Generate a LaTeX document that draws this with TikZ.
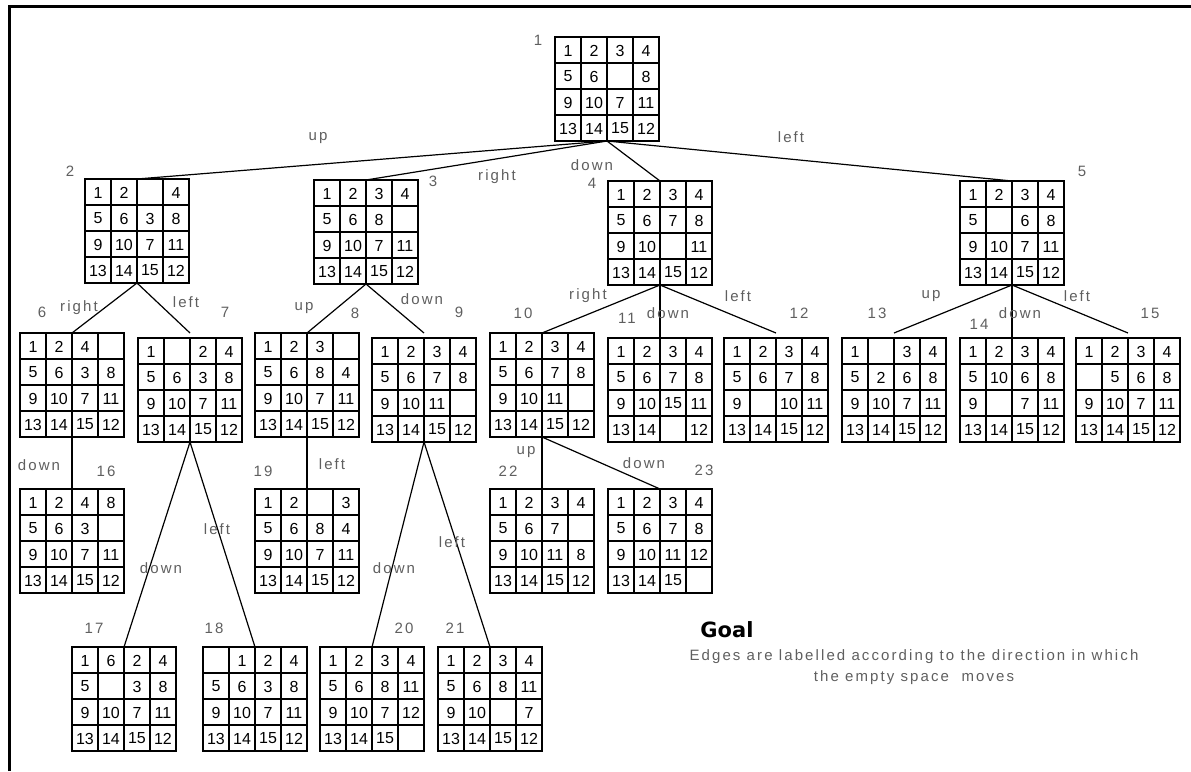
\documentclass[tikz,border=0pt]{standalone}
\usepackage{fontspec}
\setmainfont{Liberation Sans}
\newfontfamily\lblfont[LetterSpace=14]{Liberation Sans}
\newfontfamily\goalfont{DejaVu Sans}
\usetikzlibrary{calc}
\definecolor{labelgray}{RGB}{95,95,95}
\tikzset{
  boardbox/.style={draw, line width=1.8pt, minimum width=104pt, minimum height=104pt, inner sep=0pt, outer sep=0pt},
  gridline/.style={line width=1.8pt},
  tile/.style={inner sep=0pt, font=\fontsize{16}{19}\selectfont},
  edge/.style={line width=1.2pt},
  lbl/.style={inner sep=0pt, text=labelgray, font=\lblfont\fontsize{15}{18}\selectfont},
  goaltext/.style={inner sep=0pt, font=\goalfont\bfseries\fontsize{21}{25}\selectfont},
  captext/.style={inner sep=0pt, text=labelgray, align=center, font=\lblfont\fontsize{15}{20.4}\selectfont}
}
\newcommand\puzzle[4]{%
  \node[boardbox] (#1) at (#2+52,#3+52) {};
  \foreach \k in {1,2,3}{
    \draw[gridline] (#2+26*\k,#3) -- (#2+26*\k,#3+104);
    \draw[gridline] (#2,#3+26*\k) -- (#2+104,#3+26*\k);
  }
  \foreach \v [count=\i from 0] in {#4}{
    \pgfmathtruncatemacro\cc{mod(\i,4)}
    \pgfmathtruncatemacro\rr{div(\i,4)}
    \node[tile] (#1-\i) at (#2+13+26*\cc,#3+13.5+26*\rr) {\v};
  }
}
\begin{document}
\begin{tikzpicture}[x=1pt,y=-1pt]
\useasboundingbox (0,0) rectangle (1191,771);
\draw[line width=3pt] (9,771) -- (9,6.5) -- (1191,6.5);

% boards
\puzzle{b1}{555}{37}{1,2,3,4,5,6,{},8,9,10,7,11,13,14,15,12}
\puzzle{b2}{85}{179}{1,2,{},4,5,6,3,8,9,10,7,11,13,14,15,12}
\puzzle{b3}{314}{180}{1,2,3,4,5,6,8,{},9,10,7,11,13,14,15,12}
\puzzle{b4}{608}{181}{1,2,3,4,5,6,7,8,9,10,{},11,13,14,15,12}
\puzzle{b5}{960}{181}{1,2,3,4,5,{},6,8,9,10,7,11,13,14,15,12}
\puzzle{b6}{20}{333}{1,2,4,{},5,6,3,8,9,10,7,11,13,14,15,12}
\puzzle{b7}{138}{338}{1,{},2,4,5,6,3,8,9,10,7,11,13,14,15,12}
\puzzle{b8}{255}{333}{1,2,3,{},5,6,8,4,9,10,7,11,13,14,15,12}
\puzzle{b9}{372}{338}{1,2,3,4,5,6,7,8,9,10,11,{},13,14,15,12}
\puzzle{b10}{490}{333}{1,2,3,4,5,6,7,8,9,10,11,{},13,14,15,12}
\puzzle{b11}{608}{338}{1,2,3,4,5,6,7,8,9,10,15,11,13,14,{},12}
\puzzle{b12}{724}{338}{1,2,3,4,5,6,7,8,9,{},10,11,13,14,15,12}
\puzzle{b13}{842}{338}{1,{},3,4,5,2,6,8,9,10,7,11,13,14,15,12}
\puzzle{b14}{960}{338}{1,2,3,4,5,10,6,8,9,{},7,11,13,14,15,12}
\puzzle{b15}{1076}{338}{1,2,3,4,{},5,6,8,9,10,7,11,13,14,15,12}
\puzzle{b16}{20}{489}{1,2,4,8,5,6,3,{},9,10,7,11,13,14,15,12}
\puzzle{b19}{255}{489}{1,2,{},3,5,6,8,4,9,10,7,11,13,14,15,12}
\puzzle{b22}{490}{489}{1,2,3,4,5,6,7,{},9,10,11,8,13,14,15,12}
\puzzle{b23}{608}{489}{1,2,3,4,5,6,7,8,9,10,11,12,13,14,15,{}}
\puzzle{b17}{72}{647}{1,6,2,4,5,{},3,8,9,10,7,11,13,14,15,12}
\puzzle{b18}{203}{647}{{},1,2,4,5,6,3,8,9,10,7,11,13,14,15,12}
\puzzle{b20}{320}{647}{1,2,3,4,5,6,8,11,9,10,7,12,13,14,15,{}}
\puzzle{b21}{438}{647}{1,2,3,4,5,6,8,11,9,10,{},7,13,14,15,12}

% free ends just above lowered boards
\coordinate (t7) at ($(b7.north)+(0,-5)$);
\coordinate (t9) at ($(b9.north)+(0,-5)$);
\coordinate (t12) at ($(b12.north)+(0,-5)$);
\coordinate (t13) at ($(b13.north)+(0,-5)$);
\coordinate (t15) at ($(b15.north)+(0,-5)$);

% edges
\draw[edge] (b1.south) -- (b2.north);
\draw[edge] (b1.south) -- (b3.north);
\draw[edge] (b1.south) -- (b4.north);
\draw[edge] (b1.south) -- (b5.north);
\draw[edge] (b2.south) -- (b6.north);
\draw[edge] (b2.south) -- (t7);
\draw[edge] (b3.south) -- (b8.north);
\draw[edge] (b3.south) -- (t9);
\draw[edge] (b4.south) -- (b10.north);
\draw[edge] (b4.south) -- (b11.north);
\draw[edge] (b4.south) -- (t12);
\draw[edge] (b5.south) -- (t13);
\draw[edge] (b5.south) -- (b14.north);
\draw[edge] (b5.south) -- (t15);
\draw[edge] (b6.south) -- (b16.north);
\draw[edge] (b7.south) -- (b17.north);
\draw[edge] (b7.south) -- (b18.north);
\draw[edge] (b8.south) -- (b19.north);
\draw[edge] (b9.south) -- (b20.north);
\draw[edge] (b9.south) -- (b21.north);
\draw[edge] (b10.south) -- (b22.north);
\draw[edge] (b10.south) -- (b23.north);

% state numbers
\node[lbl] (n1) at (538,40) {1};
\node[lbl] (n2) at (70,171) {2};
\node[lbl] (n3) at (433,181) {3};
\node[lbl] (n4) at (592,183) {4};
\node[lbl] (n5) at (1082,171) {5};
\node[lbl] (n6) at (42,312) {6};
\node[lbl] (n7) at (225,312) {7};
\node[lbl] (n8) at (355,313) {8};
\node[lbl] (n9) at (459,312) {9};
\node[lbl] (n10) at (523,313) {10};
\node[lbl] (n11) at (627,318) {11};
\node[lbl] (n12) at (799,313) {12};
\node[lbl] (n13) at (877,313) {13};
\node[lbl] (n14) at (979,324) {14};
\node[lbl] (n15) at (1150,313) {15};
\node[lbl] (n16) at (106,471) {16};
\node[lbl] (n19) at (263,471) {19};
\node[lbl] (n22) at (508,471) {22};
\node[lbl] (n23) at (704,470) {23};
\node[lbl] (n17) at (94,628) {17};
\node[lbl] (n18) at (214,628) {18};
\node[lbl] (n20) at (404,628) {20};
\node[lbl] (n21) at (455,628) {21};

% move labels
\node[lbl] (m12) at (318,138) {up};
\node[lbl] (m13) at (497,177) {right};
\node[lbl] (m14) at (592,165) {down};
\node[lbl] (m15) at (791,137) {left};
\node[lbl] (m26) at (79,308) {right};
\node[lbl] (m27) at (186,302) {left};
\node[lbl] (m38) at (304,308) {up};
\node[lbl] (m39) at (422,299) {down};
\node[lbl] (m410) at (588,296) {right};
\node[lbl] (m411) at (668,313) {down};
\node[lbl] (m412) at (738,296) {left};
\node[lbl] (m513) at (931,296) {up};
\node[lbl] (m514) at (1020,313) {down};
\node[lbl] (m515) at (1077,296) {left};
\node[lbl] (m616) at (39,465) {down};
\node[lbl] (m819) at (332,464) {left};
\node[lbl] (m717) at (161,568) {down};
\node[lbl] (m718) at (217,529) {left};
\node[lbl] (m920) at (394,568) {down};
\node[lbl] (m921) at (452,542) {left};
\node[lbl] (m1022) at (526,452) {up};
\node[lbl] (m1023) at (644,463) {down};

\node[goaltext] (goal) at (727,630) {Goal};
\node[captext] (cap) at (914,667) {Edges are labelled according to the direction in which\\the empty space\ \ moves};
\end{tikzpicture}
\end{document}
